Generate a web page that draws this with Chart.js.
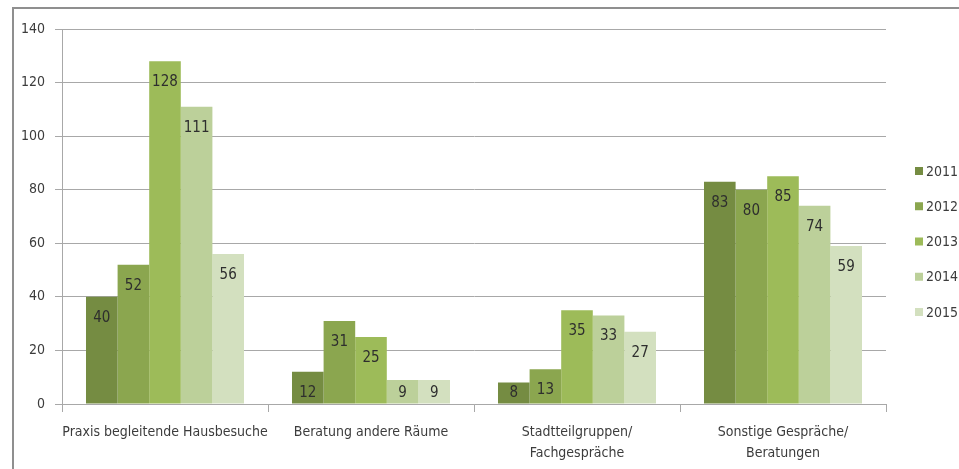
<!DOCTYPE html>
<html>
<head>
<meta charset="utf-8">
<script src="https://cdn.jsdelivr.net/npm/chart.js@4/dist/chart.umd.min.js"></script>
<style>
  html, body { margin: 0; padding: 0; background: #fff; }
  #wrap { position: relative; width: 959px; height: 469px; overflow: hidden; }
  #frame {
    position: absolute; left: 12px; top: 7px; right: -10px; bottom: -10px;
    border-left: 2px solid #8f8f8f; border-top: 2px solid #8f8f8f;
  }
  canvas { position: absolute; left: 0; top: 0; }
</style>
</head>
<body>
<div id="wrap">
  <div id="frame"></div>
  <canvas id="chart" width="959" height="469"></canvas>
</div>
<script>
// Werte
const categories = [
  "Praxis begleitende Hausbesuche",
  "Beratung andere Räume",
  ["Stadtteilgruppen/", "Fachgespräche"],
  ["Sonstige Gespräche/", "Beratungen"]
]
const years = ["2011", "2012", "2013", "2014", "2015"]
const values2011 = [40, 12, 8, 83]
const values2012 = [52, 31, 13, 80]
const values2013 = [128, 25, 35, 85]
const values2014 = [111, 9, 33, 74]
const values2015 = [56, 9, 27, 59]
const yTicks = [0, 20, 40, 60, 80, 100, 120, 140]

const colors = ["#758c42", "#8ba64f", "#9dbb59", "#bcd09a", "#d3e0bf"]
const textColor = "#3c3c3c"
const gridColor = "#a8a8a8"
const narrow = "'DejaVu Sans Condensed', 'Liberation Sans Narrow', sans-serif"

const series = [values2011, values2012, values2013, values2014, values2015]

// Zahlen oben in den Balken
const barLabels = {
  id: "barLabels",
  afterDatasetsDraw(chart) {
    const ctx = chart.ctx
    const base = chart.scales.y.getPixelForValue(0)
    ctx.save()
    ctx.font = "15px " + narrow
    ctx.fillStyle = "#2e2e2e"
    ctx.textAlign = "center"
    ctx.textBaseline = "middle"
    chart.data.datasets.forEach((ds, i) => {
      chart.getDatasetMeta(i).data.forEach((bar, j) => {
        const y = Math.min(bar.y + 21, base - 11)
        ctx.fillText(String(ds.data[j]), bar.x, y)
      })
    })
    ctx.restore()
  }
}

// Legende rechts
const sideLegend = {
  id: "sideLegend",
  afterDraw(chart) {
    const ctx = chart.ctx
    ctx.save()
    ctx.font = "14px " + narrow
    ctx.textBaseline = "middle"
    chart.data.datasets.forEach((ds, i) => {
      const y = 171 + i * 35.25
      ctx.fillStyle = ds.backgroundColor
      ctx.fillRect(915, y - 4, 8, 8)
      ctx.fillStyle = textColor
      ctx.fillText(ds.label, 926, y + 1)
    })
    ctx.restore()
  }
}

const ctx = document.getElementById("chart").getContext("2d")
new Chart(ctx, {
  type: "bar",
  data: {
    labels: categories,
    datasets: years.map((year, i) => ({
      label: year,
      data: series[i],
      backgroundColor: colors[i],
      borderWidth: 0,
      barPercentage: 1,
      categoryPercentage: 0.767
    }))
  },
  options: {
    responsive: false,
    animation: false,
    layout: { padding: { top: 29, right: 73, bottom: 0, left: 0 } },
    plugins: {
      legend: { display: false },
      tooltip: { enabled: false }
    },
    scales: {
      x: {
        afterFit: (scale) => { scale.height = 65 },
        grid: {
          offset: true,
          drawOnChartArea: false,
          tickLength: 8,
          color: gridColor
        },
        border: { color: gridColor },
        ticks: {
          color: textColor,
          font: { family: narrow, size: 14, lineHeight: 1.5 },
          padding: 10,
          maxRotation: 0,
          autoSkip: false
        }
      },
      y: {
        min: 0,
        max: 140,
        afterFit: (scale) => { scale.width = 62 },
        afterBuildTicks: (scale) => { scale.ticks = yTicks.map(v => ({ value: v })) },
        grid: { color: gridColor, tickLength: 7 },
        border: { color: gridColor },
        ticks: {
          color: textColor,
          font: { family: narrow, size: 14 },
          padding: 10
        }
      }
    }
  },
  plugins: [barLabels, sideLegend]
})
</script>
</body>
</html>
